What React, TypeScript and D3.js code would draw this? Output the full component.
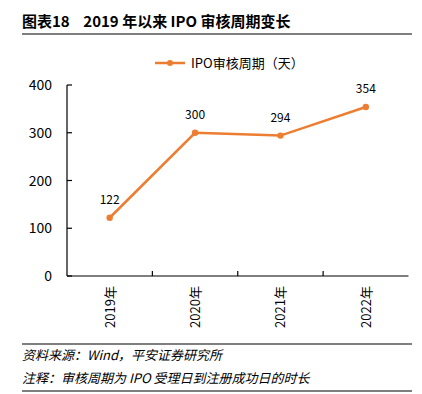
import React from "react";
import * as d3 from "d3";

const categories = ["2019年", "2020年", "2021年", "2022年"];
const values = [122, 300, 294, 354];
const yTicks = [0, 100, 200, 300, 400];
const seriesName = "IPO审核周期（天）";
const title = "图表18    2019 年以来 IPO 审核周期变长";
const source = "资料来源：Wind，平安证券研究所";
const note = "注释：审核周期为 IPO 受理日到注册成功日的时长";

const W = 422, H = 394;
const color = "#ED7D31";
const font = "'Microsoft YaHei', 'Noto Sans CJK SC', 'Open Sans', sans-serif";

export default function App() {
  const x = d3.scaleBand<string>().domain(categories).range([67, 408.5]);
  const y = d3.scaleLinear().domain([0, 400]).range([276, 85]);
  const cx = (c: string) => (x(c) as number) + x.bandwidth() / 2;
  const line = d3.line<number>().x((_, i) => cx(categories[i])).y((d) => y(d));
  const bounds = x.domain().slice(1).map((c) => x(c) as number);
  return (
    <svg width={W} height={H} style={{ position: "absolute", left: 0, top: 0 }} fontFamily={font}>
      <rect width={W} height={H} fill="#fff" />
      <text x={22} y={27} fontSize={15} fontWeight="bold" fill="#000" style={{ whiteSpace: "pre" }}>{title}</text>
      <line x1={22} x2={412} y1={34} y2={34} stroke="#000" strokeWidth={1.2} />
      {/* legend */}
      <line x1={155} x2={185} y1={63} y2={63} stroke={color} strokeWidth={2.5} />
      <circle cx={170} cy={63} r={3} fill={color} />
      <text x={191} y={68} fontSize={13} fill="#000">{seriesName}</text>
      {/* y axis */}
      <line x1={67} x2={67} y1={y(400)} y2={y(0)} stroke="#000" strokeWidth={1.2} />
      {yTicks.map((t) => (
        <g key={t}>
          <line x1={67} x2={72} y1={y(t)} y2={y(t)} stroke="#000" strokeWidth={1.2} />
          <text x={52} y={y(t) + 5} fontSize={14} textAnchor="end" fill="#000">{t}</text>
        </g>
      ))}
      {/* x axis */}
      <line x1={67} x2={408.5} y1={y(0)} y2={y(0)} stroke="#000" strokeWidth={1.2} />
      {bounds.map((b, i) => (
        <line key={i} x1={b} x2={b} y1={y(0)} y2={y(0) - 5} stroke="#000" strokeWidth={1.2} />
      ))}
      {categories.map((c) => (
        <text key={c} transform={`translate(${cx(c) + 5},286) rotate(-90)`} fontSize={13} textAnchor="end" fill="#000">{c}</text>
      ))}
      {/* series */}
      <path d={line(values) || ""} fill="none" stroke={color} strokeWidth={2.5} />
      {values.map((v, i) => (
        <g key={i}>
          <circle cx={cx(categories[i])} cy={y(v)} r={3.2} fill={color} />
          <text x={cx(categories[i])} y={y(v) - 14} fontSize={12} textAnchor="middle" fill="#000">{v}</text>
        </g>
      ))}
      {/* footer */}
      <line x1={22} x2={412} y1={344} y2={344} stroke="#000" strokeWidth={1.2} />
      <text x={22} y={360} fontSize={13} fontStyle="italic" fill="#000">{source}</text>
      <text x={22} y={383} fontSize={13} fontStyle="italic" fill="#000">{note}</text>
      <line x1={22} x2={412} y1={391} y2={391} stroke="#000" strokeWidth={1.2} />
    </svg>
  );
}
